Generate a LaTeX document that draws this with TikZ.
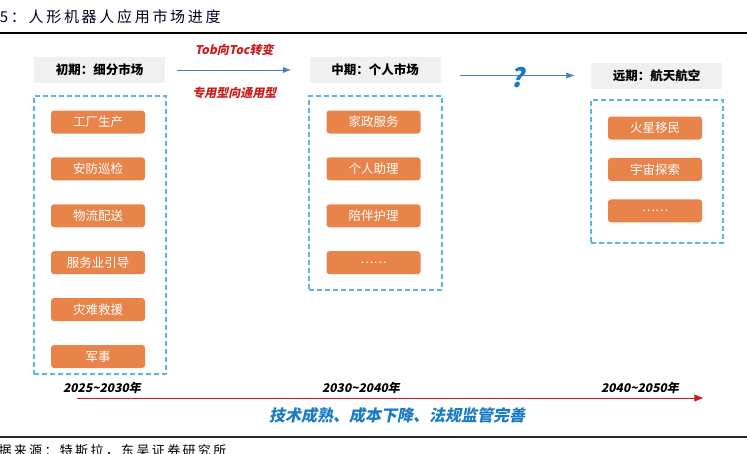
\documentclass[tikz,border=0pt]{standalone}
\usepackage{fontspec}
\usepackage{tikz}
\usetikzlibrary{arrows.meta, positioning}
\setmainfont{Noto Sans CJK SC}
\newfontfamily\slantfont[FakeSlant=0.2]{Noto Sans CJK SC}
\newfontfamily\titlefont[LetterSpace=18]{Noto Sans CJK SC}
\definecolor{naranjaItem}{HTML}{E8834A}
\definecolor{grisCabecera}{HTML}{F0F0F0}
\definecolor{azulMarco}{HTML}{5AB4E6}
\definecolor{azulFlecha}{HTML}{4A7EBB}
\definecolor{azulTexto}{HTML}{1B7CC4}
\definecolor{rojoLinea}{HTML}{C81E1E}

\begin{document}
\begin{tikzpicture}[x=1pt, y=-1pt,
        node distance=23.5pt,
        cabecera/.style={fill=grisCabecera, minimum width=131pt, minimum height=26pt, inner sep=0pt,
            font=\bfseries\fontsize{12.5}{14}\selectfont},
        item/.style={fill=naranjaItem, rounded corners=3pt, minimum width=94pt, minimum height=23pt,
            inner sep=0pt, text=white, font=\fontsize{12.5}{14}\selectfont},
        marco/.style={draw=azulMarco, dash pattern=on 5pt off 3pt, line width=1.3pt, inner sep=0pt},
        flecha/.style={-{Latex[length=3mm, width=2.2mm]}, azulFlecha, thick},
        rojo/.style={text=rojoLinea, font=\slantfont\bfseries\fontsize{12}{14}\selectfont},
        periodo/.style={font=\slantfont\bfseries\fontsize{12}{14}\selectfont}
    ]
        \clip (0,0) rectangle (747,453);
        \useasboundingbox (0,0) rectangle (747,453);

        % titulo
        \node[anchor=west, inner sep=0pt, font=\titlefont\fontsize{15}{16}\selectfont, text=black!85!blue]
            (titulo) at (-18,17) {图5：人形机器人应用市场进度};
        \draw[line width=2pt] (0,33) -- (747,33);

        % cabeceras
        \node[cabecera] (h1) at (99.5,70) {初期：细分市场};
        \node[cabecera] (h2) at (375,70) {中期：个人市场};
        \node[cabecera] (h3) at (656.5,75.5) {远期：航天航空};

        \draw[flecha] ([xshift=12pt]h1.east) -- node[rojo, above=11pt]{Tob向Toc转变}
            node[rojo, below=13pt]{专用型向通用型} ([xshift=-18pt]h2.west);
        \draw[flecha] ([xshift=19pt]h2.east |- h3) -- node[text=azulTexto, yshift=-2pt,
            font=\slantfont\bfseries\fontsize{26}{28}\selectfont]{?} ([xshift=-16pt]h3.west);

        % marcos
        \node[marco, minimum width=132pt, minimum height=278pt] (m1) at (100,235) {};
        \node[marco, minimum width=133pt, minimum height=194pt] (m2) at (375.5,193) {};
        \node[marco, minimum width=132pt, minimum height=143pt] (m3) at (657,171.5) {};

        % initial
        \node[item] (a1) at (98,122) {工厂生产};
        \node[item, below=of a1] (a2) {安防巡检};
        \node[item, below=of a2] (a3) {物流配送};
        \node[item, below=of a3] (a4) {服务业引导};
        \node[item, below=of a4] (a5) {灾难救援};
        \node[item, below=of a5] (a6) {军事};

        \node[item] (b1) at (373.5,122) {家政服务};
        \node[item, below=of b1] (b2) {个人助理};
        \node[item, below=of b2] (b3) {陪伴护理};
        \node[item, below=of b3] (b4) {……};

        \node[item] (c1) at (655,128) {火星移民};
        \node[item, below=18pt of c1] (c2) {宇宙探索};
        \node[item, below=18pt of c2] (c3) {……};

        % linea de tiempo
        \coordinate (t0) at (77,398);
        \coordinate (t1) at (703,398);
        \draw[-{Triangle[length=3mm, width=2.4mm]}, rojoLinea, thick] (t0) -- (t1);
        \node[periodo] (p1) at (102,388) {2025\textasciitilde2030年};
        \node[periodo] (p2) at (361,388) {2030\textasciitilde2040年};
        \node[periodo] (p3) at (640,388) {2040\textasciitilde2050年};
        \node[text=azulTexto, font=\slantfont\bfseries\fontsize{16}{18}\selectfont] (lema) at (397,415)
            {技术成熟、成本下降、法规监管完善};

        % fuente
        \draw[line width=2.5pt, black!85] (0,437) -- (747,437);
        \node[anchor=west, inner sep=0pt, font=\titlefont\fontsize{13}{14}\selectfont]
            (fuente) at (-17,451) {数据来源：特斯拉，东吴证券研究所};
    \end{tikzpicture}
\end{document}
